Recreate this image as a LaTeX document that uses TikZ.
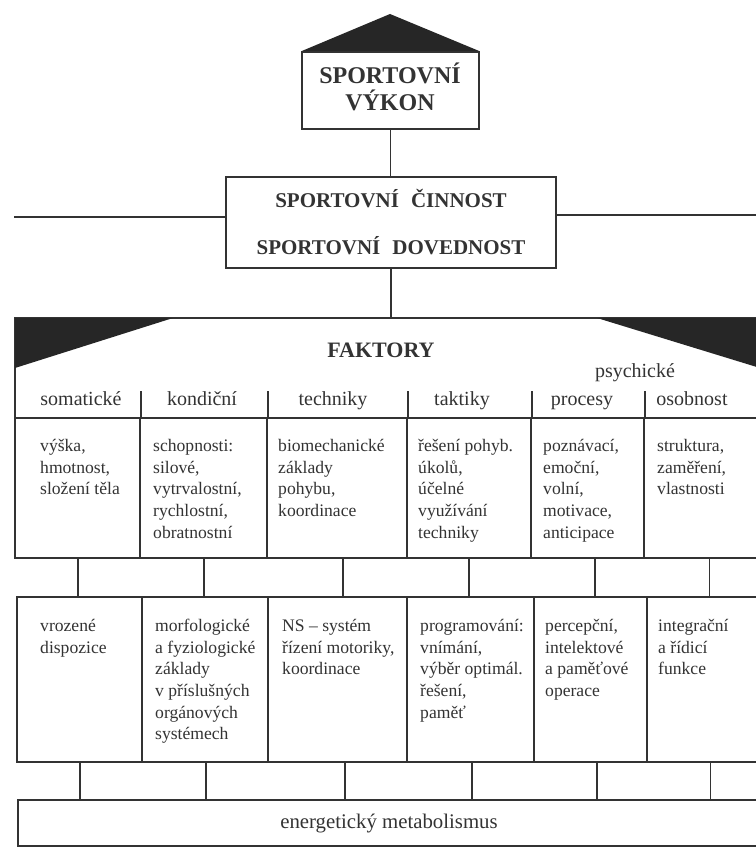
\documentclass[tikz,border=0pt]{standalone}
\usepackage{fontspec}
\setmainfont{Liberation Serif}
\usetikzlibrary{fit}
\definecolor{ink}{HTML}{333333}
\definecolor{dark}{HTML}{262626}
\begin{document}
\begin{tikzpicture}[x=1pt,y=-1pt,
  conn/.style={draw=ink, line width=1.5pt},
  cell/.style={draw=ink, line width=1.5pt, inner sep=0pt, rectangle},
  bigcap/.style={font=\fontsize{24}{28}\selectfont\bfseries, text=ink, inner sep=0pt, anchor=base},
  midcap/.style={font=\fontsize{21}{25}\selectfont\bfseries, text=ink, inner sep=0pt, anchor=base},
  head/.style={font=\fontsize{20}{24}\selectfont, text=ink, inner sep=0pt, anchor=base},
  body/.style={font=\fontsize{17.6}{21.7}\selectfont, text=ink, inner sep=0pt, anchor=north west, align=left}]
\useasboundingbox (0,0) rectangle (755,848);
\fill[white] (0,0) rectangle (755,848);

% top box with roof
\node[cell, fit={(302,52) (479,129)}] (vykon) {};
\fill[dark] (vykon.north west) -- (390,14) -- (vykon.north east) -- cycle;
\node[bigcap] (t1) at (390,84) {SPORTOVNÍ};
\node[bigcap] (t2) at (390,111) {VÝKON};

% middle box
\node[cell, fit={(226,177) (556,268)}] (mid) {};
\node[midcap] (m1) at (391,207) {SPORTOVNÍ\hspace{12pt}ČINNOST};
\node[midcap] (m2) at (391,254) {SPORTOVNÍ\hspace{12pt}DOVEDNOST};
\coordinate (L) at (14,217);
\coordinate (R) at (760,215);
\draw[conn] (vykon.south) -- (vykon.south |- mid.north);
\draw[conn] (mid.west |- L) -- (L);
\draw[conn] (mid.east |- R) -- (R);

% FAKTORY header
\node[cell, fit={(15,318) (760,418)}] (hdr) {};
\fill[dark] (15,318) -- (173,318) -- (15,368) -- cycle;
\fill[dark] (597,318) -- (760,318) -- (760,368) -- cycle;
\draw[conn] (mid.south) -- (mid.south |- hdr.north);
\node[font=\fontsize{22}{26}\selectfont\bfseries, text=ink, inner sep=0pt, anchor=base] (fak) at (381,357) {FAKTORY};
\node[head] (psy) at (635,377) {psychické};

% row 1
\node[cell, fit={(15,418) (140,558)}] (a1) {};
\node[cell, fit={(140,418) (267,558)}] (a2) {};
\node[cell, fit={(267,418) (407,558)}] (a3) {};
\node[cell, fit={(407,418) (531,558)}] (a4) {};
\node[cell, fit={(531,418) (644,558)}] (a5) {};
\node[cell, fit={(644,418) (760,558)}] (a6) {};
\foreach \c in {a1,a2,a3,a4,a5}{
  \draw[conn] (\c.north east) -- ++(0,-26);
}
\node[head] (h1) at (81,405) {somatické};
\node[head] (h2) at (202,405) {kondiční};
\node[head] (h3) at (333,405) {techniky};
\node[head] (h4) at (462,405) {taktiky};
\node[head] (h5) at (582,405) {procesy};
\node[head] (h6) at (692,405) {osobnost};

\node[body] (b1) at (40,436) {\strut výška,\\ hmotnost,\\ složení těla};
\node[body] (b2) at (153,436) {\strut schopnosti:\\ silové,\\ vytrvalostní,\\ rychlostní,\\ obratnostní};
\node[body] (b3) at (278,436) {\strut biomechanické\\ základy\\ pohybu,\\ koordinace};
\node[body] (b4) at (418,436) {\strut řešení pohyb.\\ úkolů,\\ účelné\\ využívání\\ techniky};
\node[body] (b5) at (543,436) {\strut poznávací,\\ emoční,\\ volní,\\ motivace,\\ anticipace};
\node[body] (b6) at (657,436) {\strut struktura,\\ zaměření,\\ vlastnosti};

% row 2
\node[cell, fit={(17,597) (142,762)}] (c1) {};
\node[cell, fit={(142,597) (268,762)}] (c2) {};
\node[cell, fit={(268,597) (407,762)}] (c3) {};
\node[cell, fit={(407,597) (534,762)}] (c4) {};
\node[cell, fit={(534,597) (647,762)}] (c5) {};
\node[cell, fit={(647,597) (760,762)}] (c6) {};

\node[body] (d1) at (40,616) {\strut vrozené\\ dispozice};
\node[body] (d2) at (155,616) {\strut morfologické\\ a fyziologické\\ základy\\ v příslušných\\ orgánových\\ systémech};
\node[body] (d3) at (282,616) {\strut NS – systém\\ řízení motoriky,\\ koordinace};
\node[body] (d4) at (420,616) {\strut programování:\\ vnímání,\\ výběr optimál.\\ řešení,\\ paměť};
\node[body] (d5) at (545,616) {\strut percepční,\\ intelektové\\ a paměťové\\ operace};
\node[body] (d6) at (658,616) {\strut integrační\\ a řídicí\\ funkce};

% connectors row1 -> row2
\draw[conn] ([xshift=0.5pt]a1.south) -- ([xshift=0.5pt]a1.south |- c1.north);
\draw[conn] ([xshift=0.5pt]a2.south) -- ([xshift=0.5pt]a2.south |- c2.north);
\draw[conn] ([xshift=6pt]a3.south) -- ([xshift=6pt]a3.south |- c3.north);
\draw[conn] (a4.south) -- (a4.south |- c4.north);
\draw[conn] ([xshift=7.5pt]a5.south) -- ([xshift=7.5pt]a5.south |- c5.north);
\draw[conn] ([xshift=7.5pt]a6.south) -- ([xshift=7.5pt]a6.south |- c6.north);

% bottom box
\node[cell, fit={(18,800) (760,846)}] (meta) {};
\node[font=\fontsize{20.8}{24}\selectfont, text=ink, inner sep=0pt, anchor=base] (mt) at (389,828) {energetický metabolismus};

% connectors row2 -> bottom
\draw[conn] ([xshift=0.5pt]c1.south) -- ([xshift=0.5pt]c1.south |- meta.north);
\draw[conn] ([xshift=1pt]c2.south) -- ([xshift=1pt]c2.south |- meta.north);
\draw[conn] ([xshift=7.5pt]c3.south) -- ([xshift=7.5pt]c3.south |- meta.north);
\draw[conn] ([xshift=1.5pt]c4.south) -- ([xshift=1.5pt]c4.south |- meta.north);
\draw[conn] ([xshift=6.5pt]c5.south) -- ([xshift=6.5pt]c5.south |- meta.north);
\draw[conn] ([xshift=7pt]c6.south) -- ([xshift=7pt]c6.south |- meta.north);
\end{tikzpicture}
\end{document}
